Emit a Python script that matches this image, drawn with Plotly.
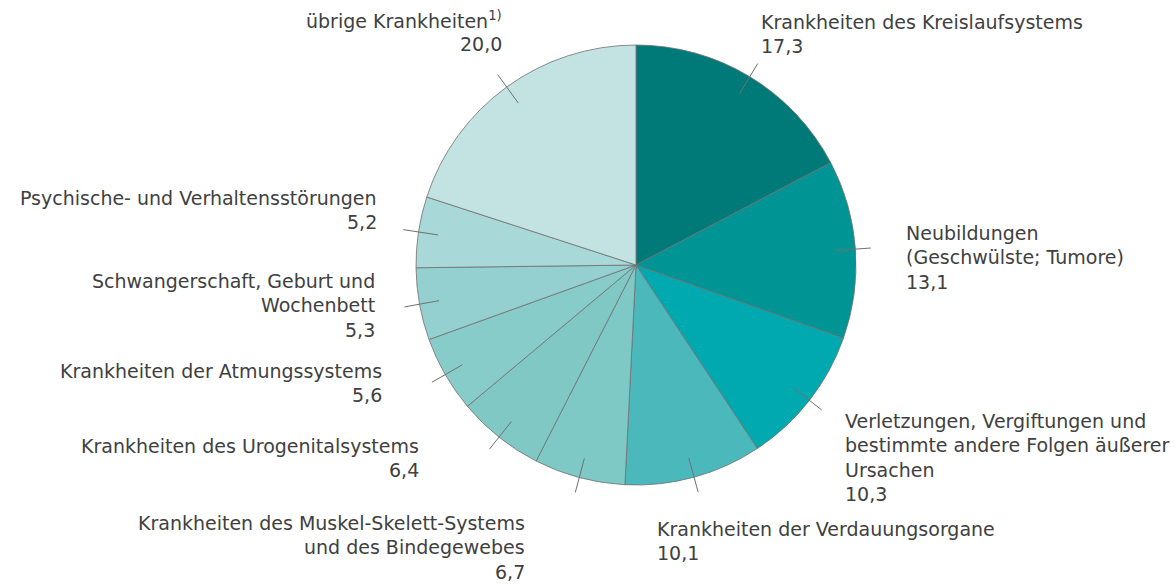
import math
import plotly.graph_objects as go

# ---- data ----
categories = [
    "Krankheiten des Kreislaufsystems",
    "Neubildungen (Geschwülste; Tumore)",
    "Verletzungen, Vergiftungen und bestimmte andere Folgen äußerer Ursachen",
    "Krankheiten der Verdauungsorgane",
    "Krankheiten des Muskel-Skelett-Systems und des Bindegewebes",
    "Krankheiten des Urogenitalsystems",
    "Krankheiten der Atmungssystems",
    "Schwangerschaft, Geburt und Wochenbett",
    "Psychische- und Verhaltensstörungen",
    "übrige Krankheiten",
]
values = [17.3, 13.1, 10.3, 10.1, 6.7, 6.4, 5.6, 5.3, 5.2, 20.0]
label_texts = [
    "Krankheiten des Kreislaufsystems",
    "Neubildungen<br>(Geschwülste; Tumore)",
    "Verletzungen, Vergiftungen und<br>bestimmte andere Folgen äußerer<br>Ursachen",
    "Krankheiten der Verdauungsorgane",
    "Krankheiten des Muskel-Skelett-Systems<br>und des Bindegewebes",
    "Krankheiten des Urogenitalsystems",
    "Krankheiten der Atmungssystems",
    "Schwangerschaft, Geburt und<br>Wochenbett",
    "Psychische- und Verhaltensstörungen",
    "übrige Krankheiten<sup>1)</sup>",
]
colors = ["#007A78", "#009494", "#00A9B0", "#4BB8BC", "#7EC8C5",
          "#80C8C4", "#88CCC9", "#93D0CF", "#A8D8D7", "#C3E3E2"]

# ---- layout constants (pixels) ----
W, H = 1175, 585
CX, CY, R = 636, 265, 220
FS = 19.0
LINE = 24.3
TXT = "#404040"
# label anchor: (x, first-baseline y, side)
label_pos = [
    (760, 29, "left"),
    (905, 240, "left"),
    (844, 428, "left"),
    (656, 536, "left"),
    (526, 530, "right"),
    (420, 453, "right"),
    (383, 378, "right"),
    (376, 288, "right"),
    (378, 205, "right"),
    (503, 27, "right"),
]

def fmt(v):
    return f"{v:.1f}".replace(".", ",")

fig = go.Figure(go.Pie(
    labels=categories,
    values=values,
    sort=False,
    direction="clockwise",
    rotation=0,
    marker=dict(colors=colors, line=dict(color="#707070", width=0.8)),
    textinfo="none",
    hoverinfo="label+value",
    showlegend=False,
    domain=dict(x=[(CX - R) / W, (CX + R) / W], y=[1 - (CY + R) / H, 1 - (CY - R) / H]),
))

total = sum(values)
cum = 0.0
shapes = []
annotations = []
for v, txt, (lx, ly, side) in zip(values, label_texts, label_pos):
    frac = (cum + v / 2) / total
    cum += v
    th = 2 * math.pi * frac
    x0 = CX + R * 0.91 * math.sin(th)
    y0 = CY - R * 0.91 * math.cos(th)
    x1 = CX + R * 1.07 * math.sin(th)
    y1 = CY - R * 1.07 * math.cos(th)
    shapes.append(dict(type="line", xref="paper", yref="paper",
                       x0=x0 / W, y0=1 - y0 / H, x1=x1 / W, y1=1 - y1 / H,
                       line=dict(color="#707070", width=1)))
    lines = txt.split("<br>") + [fmt(v)]
    for i, ln in enumerate(lines):
        base = ly + i * LINE
        annotations.append(dict(
            text=ln,
            xref="paper", yref="paper",
            x=lx / W, y=1 - (base - 0.36 * FS) / H,
            xanchor=side, yanchor="middle", align=side,
            showarrow=False, borderpad=0,
            font=dict(family="DejaVu Sans", size=FS, color=TXT),
        ))

fig.update_layout(
    width=W, height=H,
    margin=dict(l=0, r=0, t=0, b=0),
    paper_bgcolor="white",
    plot_bgcolor="white",
    shapes=shapes,
    annotations=annotations,
)
fig.write_html("out.html",
               config={"displayModeBar": False},
               post_script="document.body.style.margin='0';document.body.style.overflow='hidden';")
